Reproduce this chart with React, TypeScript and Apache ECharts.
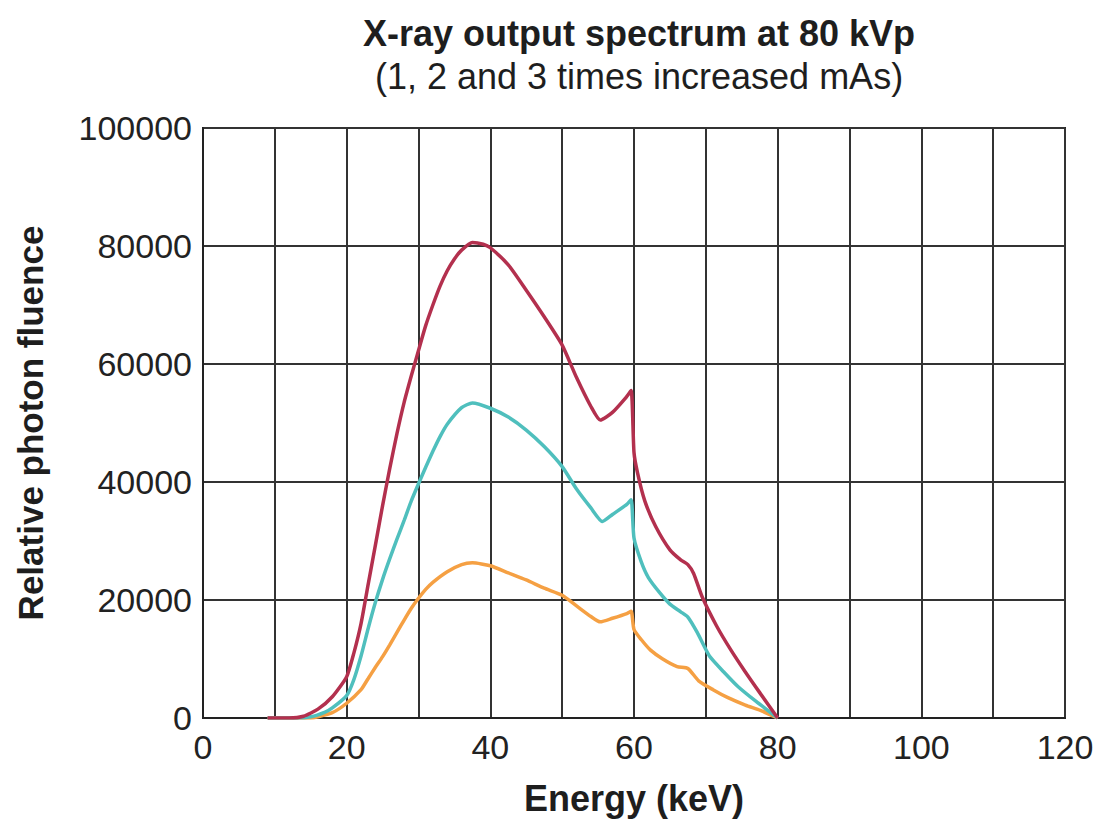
import React, { useEffect, useRef } from "react";
import * as echarts from "echarts";

const title = "X-ray output spectrum at 80 kVp";
const subtitle = "(1, 2 and 3 times increased mAs)";
const xAxisName = "Energy (keV)";
const yAxisName = "Relative photon fluence";

const seriesNames = ["3 × mAs", "2 × mAs", "1 × mAs"];
const seriesColors = ["#b3304e", "#4fbfbd", "#f5a043"];

const red3x: [number, number][] = [
  [9, 0], [12, 0], [14, 300], [16, 1500], [18, 3600], [20, 7000], [21, 11000], [22, 16000],
  [23, 22700], [24, 29300], [25, 36000], [26, 42300], [27, 48200], [28, 53500], [29, 58000],
  [30, 62300], [31, 66500], [32, 70000], [33, 73200], [34, 75800], [35, 77800], [36, 79300],
  [37.5, 80600], [39, 80300], [40, 79700], [42.5, 76800], [45, 72500], [47.5, 68000],
  [50, 63200], [52, 57700], [54, 52800], [55.3, 50500], [57, 51800], [59, 54500],
  [59.6, 55500], [60, 45000], [60.5, 41500], [61.5, 36800], [63, 32500], [65, 28500],
  [66.5, 26800], [67.5, 26000], [68.3, 24500], [69.5, 20500], [71.5, 15600], [73.5, 11500],
  [75.5, 7800], [77.5, 4300], [80, 0],
];

const cyan2x: [number, number][] = [
  [9, 0], [13, 0], [15, 200], [17, 1000], [18, 1700], [20, 3800], [21, 6500], [22, 10500],
  [23, 15200], [24, 19600], [25, 23500], [26, 27000], [27, 30300], [28, 33500], [29, 36800],
  [30, 39700], [31, 42500], [32, 45200], [33, 47700], [34, 49800], [36, 52600], [37.5, 53400],
  [40, 52500], [42.5, 51000], [45, 48800], [47.5, 46000], [50, 42600], [52, 38800],
  [54, 35600], [55.6, 33300], [57, 34500], [59, 36200], [59.6, 37000], [60, 30500],
  [61, 26500], [62, 23800], [63.6, 21200], [65, 19300], [66.5, 18000], [67.5, 17100],
  [68.8, 14500], [70.5, 10500], [72.5, 7800], [74.5, 5300], [77, 2800], [80, 0],
];

const orange1x: [number, number][] = [
  [9, 0], [15, 0], [16, 200], [18, 900], [20, 2500], [22, 4800], [23, 6700], [24, 8600],
  [25, 10400], [26, 12400], [27, 14500], [28, 16600], [29, 18600], [30, 20300], [31, 21800],
  [32, 23000], [34, 24800], [36, 26000], [37.5, 26300], [40, 25800], [42.5, 24600],
  [45, 23400], [47.5, 22000], [50, 20800], [52, 19000], [54, 17200], [55.3, 16300],
  [57, 16900], [59, 17700], [59.6, 18100], [60, 15000], [61, 13300], [62.3, 11500],
  [64, 10000], [66, 8700], [67.5, 8400], [69, 6300], [71, 4800], [73, 3500], [75.5, 2200],
  [77.6, 1300], [80, 0],
];

const allSeries = [red3x, cyan2x, orange1x];

export default function App() {
  const ref = useRef<HTMLDivElement>(null);
  useEffect(() => {
    document.body.style.margin = "0";
    const chart = echarts.init(ref.current!, null, { renderer: "svg" });
    const font = "'Liberation Sans', Arial, sans-serif";
    chart.setOption({
      animation: false,
      backgroundColor: "#ffffff",
      textStyle: { fontFamily: font },
      title: [
        {
          text: title,
          left: 634,
          top: 10,
          textAlign: "center",
          textStyle: { fontSize: 36, fontWeight: "bold", color: "#1e1e1e", fontFamily: font },
        },
        {
          text: subtitle,
          left: 634,
          top: 53,
          textAlign: "center",
          textStyle: { fontSize: 36, fontWeight: "normal", color: "#1e1e1e", fontFamily: font },
        },
      ],
      grid: {
        left: 203,
        right: 32,
        top: 128,
        bottom: 103,
        show: true,
        borderColor: "#222",
        borderWidth: 2,
        containLabel: false,
      },
      xAxis: {
        type: "value",
        min: 0,
        max: 120,
        interval: 10,
        name: xAxisName,
        nameLocation: "middle",
        nameGap: 62,
        nameTextStyle: { fontSize: 36, fontWeight: "bold", color: "#1e1e1e", fontFamily: font },
        axisLine: { show: true, lineStyle: { color: "#222", width: 2 } },
        axisTick: { show: false },
        axisLabel: {
          fontSize: 34,
          color: "#222",
          margin: 12,
          formatter: (v: number) => (v % 20 === 0 ? String(v) : ""),
        },
        splitLine: { show: true, lineStyle: { color: "#333", width: 2 } },
      },
      yAxis: {
        type: "value",
        min: 0,
        max: 100000,
        interval: 20000,
        name: yAxisName,
        nameLocation: "middle",
        nameGap: 155,
        nameRotate: 90,
        nameTextStyle: { fontSize: 35, fontWeight: "bold", color: "#1e1e1e", fontFamily: font },
        axisLine: { show: true, lineStyle: { color: "#222", width: 2 } },
        axisTick: { show: false },
        axisLabel: { fontSize: 34, color: "#222", margin: 11, formatter: (v: number) => String(v) },
        splitLine: { show: true, lineStyle: { color: "#333", width: 2 } },
      },
      series: allSeries.map((d, i) => ({
        name: seriesNames[i],
        type: "line",
        data: d,
        showSymbol: false,
        smooth: 0.2,
        lineStyle: { color: seriesColors[i], width: 3.5 },
        itemStyle: { color: seriesColors[i] },
        z: 5 - i,
      })),
    });
    return () => chart.dispose();
  }, []);
  return <div ref={ref} style={{ width: 1097, height: 821 }} />;
}
